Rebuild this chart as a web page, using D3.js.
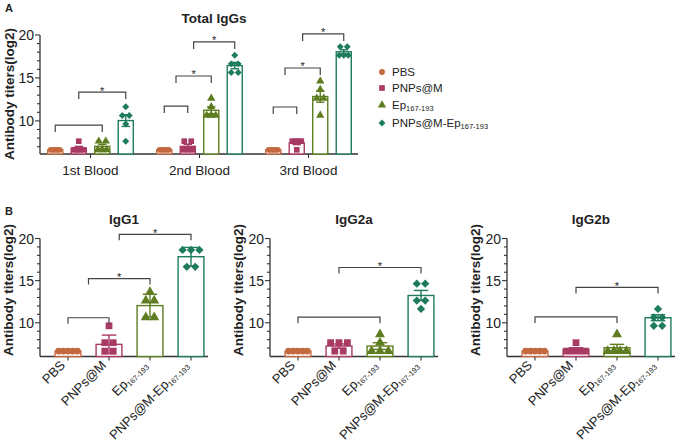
<!DOCTYPE html>
<html>
<head>
<meta charset="utf-8">
<script src="https://cdn.jsdelivr.net/npm/d3@7"></script>
<style>
  body { margin: 0; background: #fff; }
  text { font-family: Arial, "Liberation Sans", sans-serif; fill: #222; }
</style>
</head>
<body>
<svg id="chart" width="685" height="448"></svg>
<script>
"use strict";

// ---- data ----
const series = ["PBS", "PNPs@M", "Ep", "PNPs@M-Ep"];
const colors = ["#c4683f", "#a83a63", "#5e7d20", "#1e7b5e"];
const bloods = ["1st Blood", "2nd Blood", "3rd Blood"];
const yTicks = [10, 15, 20];

// Total IgGs, one row per bleed, one list per group
const totalPoints = [
  [[6.64, 6.64, 6.64, 6.64, 6.64], [7.64, 6.64, 6.64, 6.64, 6.64], [7.64, 7.64, 6.64, 6.64, 6.64], [11.64, 10.64, 10.64, 9.64, 7.64]],
  [[6.64, 6.64, 6.64, 6.64, 6.64], [7.64, 7.64, 6.64, 6.64, 6.64], [12.64, 11.64, 10.64, 10.64, 10.64], [17.64, 16.64, 16.64, 15.64, 15.64]],
  [[6.64, 6.64, 6.64, 6.64, 6.64], [7.64, 7.64, 7.64, 7.64, 6.64], [14.64, 13.64, 12.64, 12.64, 10.64], [18.64, 18.64, 17.64, 17.64, 17.64]]
];
const totalMeans = [[6.64, 6.84, 7.04, 10.04], [6.64, 7.04, 11.24, 16.44], [6.64, 7.44, 12.84, 18.04]];
const totalErr = [[0, 0.2, 0.24, 0.68], [0, 0.24, 0.4, 0.37], [0, 0.2, 0.66, 0.24]];
// [bleed, from group, to group, level, star]
const totalBrackets = [
  [0, 0, 2, 9.52, false], [0, 1, 3, 13.36, true],
  [1, 0, 1, 11.73, false], [1, 0.5, 2, 15.23, true], [1, 1.25, 3, 19.19, true],
  [2, 0, 1, 11.62, false], [2, 0.5, 2, 16.16, true], [2, 1.25, 3, 20.12, true]
];

const subTitles = ["IgG1", "IgG2a", "IgG2b"];
const subPoints = [
  [[6.64, 6.64, 6.64, 6.64, 6.64], [9.64, 7.64, 7.64, 6.64, 6.64], [13.64, 12.64, 12.64, 10.64, 10.64], [18.64, 18.64, 18.64, 16.64, 16.64]],
  [[6.64, 6.64, 6.64, 6.64, 6.64], [7.64, 7.64, 7.64, 6.64, 6.64], [8.64, 7.64, 6.64, 6.64, 6.64], [14.64, 14.64, 12.64, 12.64, 11.64]],
  [[6.64, 6.64, 6.64, 6.64, 6.64], [7.64, 6.64, 6.64, 6.64, 6.64], [8.64, 6.64, 6.64, 6.64, 6.64], [11.64, 10.64, 10.64, 9.64, 9.64]]
];
const subMeans = [[6.64, 7.44, 12.04, 17.84], [6.64, 7.24, 7.24, 13.24], [6.64, 6.84, 7.04, 10.6]];
const subErr = [[0, 1.1, 1.34, 1.1], [0, 0.25, 0.4, 0.6], [0, 0.2, 0.4, 0.35]];
// [from, to, level, star]
const subBrackets = [
  [[0, 1, 10.6, false], [0.5, 2, 15.25, true], [1.25, 3, 20.5, true]],
  [[0, 2, 10.66, false], [1, 3, 16.56, true]],
  [[0, 2, 10.7, false], [1, 3, 14.2, true]]
];

// ---- helpers ----
const svg = d3.select("#chart");
const axisColor = "#333";

function markerPath(i, s) {
  const types = [d3.symbolCircle, d3.symbolSquare, d3.symbolTriangle, d3.symbolSquare];
  const sizes = [26, 32, 30, 24];
  return d3.symbol().type(types[i]).size(sizes[i] * s * s)();
}

// spread tied values side by side, squeeze when they would leave the bar
function spread(vals, maxSpan, gap) {
  const off = new Array(vals.length);
  d3.group(vals.map((v, j) => ({ v, j })), d => d.v).forEach(arr => {
    const k = arr.length;
    const step = k > 1 ? Math.min(gap, maxSpan / (k - 1)) : 0;
    arr.forEach((d, n) => { off[d.j] = (n - (k - 1) / 2) * step; });
  });
  return off;
}

function drawBars(g, cx, bw, y, means, errs, pts, s) {
  series.forEach((name, i) => {
    const x = cx(i);
    g.append("rect")
      .attr("x", x - bw / 2).attr("y", y(means[i]))
      .attr("width", bw).attr("height", y.range()[0] - y(means[i]))
      .attr("fill", "#fff").attr("stroke", colors[i]).attr("stroke-width", 1.4);
    const off = spread(pts[i], bw - 6 * s, 7 * s);
    g.selectAll(null).data(pts[i]).join("path")
      .attr("d", markerPath(i, s))
      .attr("transform", (d, j) => `translate(${x + off[j]},${y(d)}) rotate(${i === 3 ? 45 : 0})`)
      .attr("fill", colors[i]);
    if (errs[i] > 0) {
      const cw = bw * 0.28;
      const top = y(means[i] + errs[i]), bot = y(means[i] - errs[i]);
      const e = g.append("g").attr("stroke", colors[i]).attr("stroke-width", 1.4);
      e.append("line").attr("x1", x).attr("x2", x).attr("y1", top).attr("y2", bot);
      e.append("line").attr("x1", x - cw).attr("x2", x + cw).attr("y1", top).attr("y2", top);
      e.append("line").attr("x1", x - cw).attr("x2", x + cw).attr("y1", bot).attr("y2", bot);
    }
  });
}

function bracket(g, x1, x2, yy, star, tick) {
  g.append("path")
    .attr("d", `M${x1},${yy + tick}V${yy}H${x2}V${yy + tick}`)
    .attr("fill", "none").attr("stroke", "#444").attr("stroke-width", 1.2);
  if (star) {
    g.append("text").attr("x", (x1 + x2) / 2).attr("y", yy + 2.5)
      .attr("text-anchor", "middle").style("font-size", "11px").text("*");
  }
}

function yAxis(g, ax, y) {
  g.append("line").attr("x1", ax).attr("x2", ax)
    .attr("y1", y(20)).attr("y2", y.range()[0])
    .attr("stroke", axisColor).attr("stroke-width", 1.3);
  d3.range(7, 21).forEach(v => {
    const major = yTicks.includes(v);
    g.append("line").attr("x1", ax - (major ? 5 : 3)).attr("x2", ax)
      .attr("y1", y(v)).attr("y2", y(v))
      .attr("stroke", axisColor).attr("stroke-width", 1.1);
  });
  g.selectAll(null).data(yTicks).join("text")
    .attr("x", ax - 6).attr("y", d => y(d)).attr("dy", "0.36em")
    .attr("text-anchor", "end").style("font-size", "14px").text(d => d);
}

function yLabel(g, x, cy) {
  g.append("text").attr("transform", `translate(${x},${cy}) rotate(-90)`)
    .attr("text-anchor", "middle").style("font-size", "13.5px").style("font-weight", "bold")
    .text("Antibody titers(log2)");
}

function withSub(sel, main, sub, size, subSize) {
  sel.append("tspan").style("font-size", size).text(main);
  if (sub) sel.append("tspan").style("font-size", subSize).attr("dy", "0.3em").text(sub);
}
const labelParts = [["PBS", ""], ["PNPs@M", ""], ["Ep", "167-193"], ["PNPs@M-Ep", "167-193"]];

// ---- panel A ----
const gA = svg.append("g");
const yA = d3.scaleLinear().domain([6.15, 20]).range([154, 35]);
const x0 = d3.scaleBand().domain(bloods).range([36, 363]);
const x1 = d3.scaleBand().domain(d3.range(4)).range([7.5, 101.5]);
const posA = (b, f) => x0(bloods[b]) + x1(0) + x1.bandwidth() * (f + 0.5);

gA.append("text").attr("x", 5).attr("y", 12).style("font-size", "11px").style("font-weight", "bold").text("A");
gA.append("text").attr("x", 214).attr("y", 23).attr("text-anchor", "middle")
  .style("font-size", "13.5px").style("font-weight", "bold").text("Total IgGs");
yLabel(gA, 14, 94);
yAxis(gA, 40, yA);

gA.append("line").attr("x1", 40).attr("x2", 358).attr("y1", 154).attr("y2", 154)
  .attr("stroke", axisColor).attr("stroke-width", 1.3);
bloods.forEach((b, bi) => {
  const c = x0(b) + x0.bandwidth() / 2;
  gA.append("line").attr("x1", c).attr("x2", c).attr("y1", 154).attr("y2", 158)
    .attr("stroke", axisColor).attr("stroke-width", 1.1);
  gA.append("text").attr("x", c).attr("y", 175).attr("text-anchor", "middle")
    .style("font-size", "13.5px").text(b);
  drawBars(gA, i => posA(bi, i), x1.bandwidth() * 0.64, yA,
    totalMeans[bi], totalErr[bi], totalPoints[bi], 1);
});
totalBrackets.forEach(([b, f, t, v, s]) => bracket(gA, posA(b, f), posA(b, t), yA(v), s, 7));

// legend
const leg = gA.append("g");
labelParts.forEach(([m, sub], i) => {
  const ly = [72, 88, 105, 123][i];
  leg.append("path").attr("d", markerPath(i, 1))
    .attr("transform", `translate(382,${ly}) rotate(${i === 3 ? 45 : 0})`)
    .attr("fill", colors[i]);
  const t = leg.append("text").attr("x", 392).attr("y", ly + 4);
  withSub(t, m, sub, "11.5px", "7.5px");
});

// ---- panel B ----
const gB = svg.append("g");
gB.append("text").attr("x", 5).attr("y", 215).style("font-size", "11px").style("font-weight", "bold").text("B");
const yB = d3.scaleLinear().domain([6, 20]).range([356.5, 238.5]);
const axesX = [40, 270, 507];

subTitles.forEach((title, k) => {
  const ax = axesX[k];
  const g = gB.append("g");
  const xb = d3.scaleBand().domain(d3.range(4)).range([ax + 7.5, ax + 171.5]);
  const cx = i => xb(i) + xb.bandwidth() / 2;
  const pos = f => xb(0) + xb.bandwidth() * (f + 0.5);

  g.append("text").attr("x", ax + 84).attr("y", 224).attr("text-anchor", "middle")
    .style("font-size", "13.5px").style("font-weight", "bold").text(title);
  yLabel(g, ax - 27, 290);
  yAxis(g, ax, yB);
  g.append("line").attr("x1", ax).attr("x2", ax + 168).attr("y1", 356.5).attr("y2", 356.5)
    .attr("stroke", axisColor).attr("stroke-width", 1.3);
  d3.range(4).forEach(i => {
    g.append("line").attr("x1", cx(i)).attr("x2", cx(i)).attr("y1", 356.5).attr("y2", 360.5)
      .attr("stroke", axisColor).attr("stroke-width", 1.1);
    const t = g.append("text").attr("text-anchor", "end")
      .attr("transform", `translate(${cx(i) - 2},${366}) rotate(-45)`);
    withSub(t, labelParts[i][0], labelParts[i][1], "13px", "7.5px");
  });

  drawBars(g, cx, xb.bandwidth() * 0.63, yB, subMeans[k], subErr[k], subPoints[k], 1.2);
  subBrackets[k].forEach(([f, t, v, s]) => bracket(g, pos(f), pos(t), yB(v), s, 6));
});
</script>
</body>
</html>
